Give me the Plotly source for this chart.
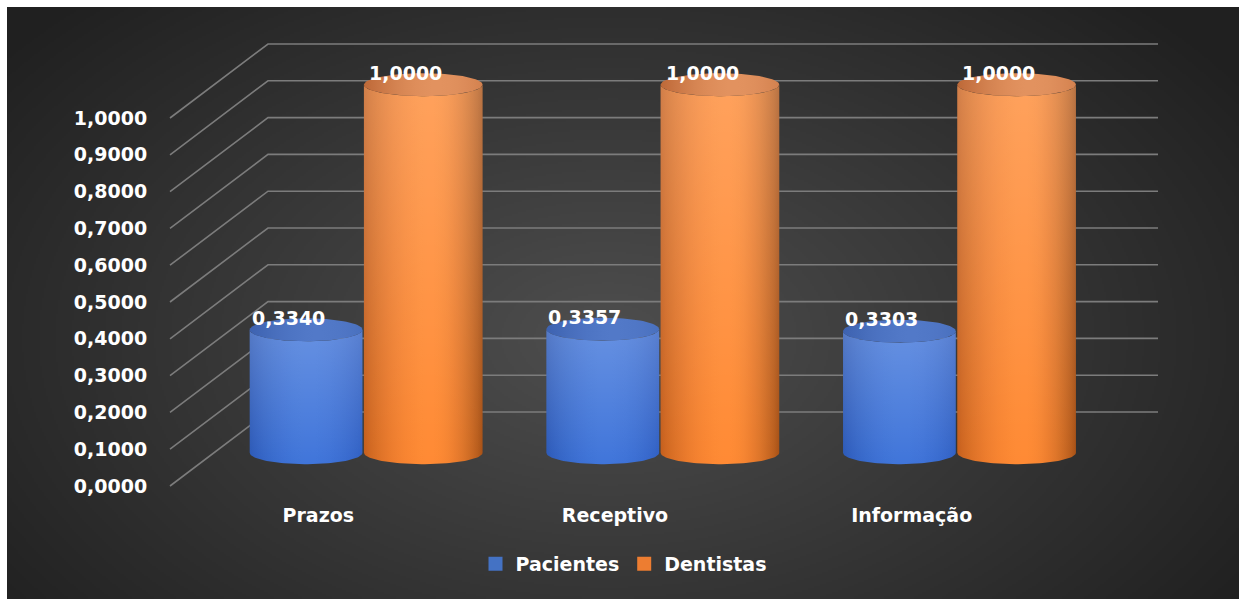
import base64
import math
import struct
import zlib

import numpy as np
import plotly.graph_objects as go

# ---------------------------------------------------------------- data
categories = ["Prazos", "Receptivo", "Informação"]
series_names = ["Pacientes", "Dentistas"]
pacientes = [0.3340, 0.3357, 0.3303]
dentistas = [1.0000, 1.0000, 1.0000]
y_ticks = [round(0.1 * i, 1) for i in range(11)]
y_tick_labels = [f"{v:.4f}".replace(".", ",") for v in y_ticks]


def fmt(v):
    return f"{v:.4f}".replace(".", ",")


# ---------------------------------------------------------------- geometry of the pseudo-3D scene
FIG_W, FIG_H = 1239, 599
PLOT_L, PLOT_R, PLOT_T, PLOT_B = 165, 1200, 30, 490
X_PX = 296.67          # pixels per category step on the front plane
V_PX = 368.0           # pixels per value unit
X0_PX = 170            # pixel of the front-left wall edge (x = -0.5)
V0_PX = 486            # pixel of value 0 on the front plane

x_range = [-0.5 - (X0_PX - PLOT_L) / X_PX, -0.5 + (PLOT_R - X0_PX) / X_PX]
y_range = [(V0_PX - PLOT_B) / V_PX, (V0_PX - PLOT_T) / V_PX]

DEPTH_DX = 98 / X_PX   # oblique shift from front plane to back wall
DEPTH_DV = 74 / V_PX
BAR_DEPTH = 0.45       # depth at which the cylinders stand
ELLIPSE_RY = 11.5 / V_PX
WALL_RIGHT = 2.5 + DEPTH_DX

FONT = "DejaVu Sans"
GRID_COLOR = "#7c7c7c"

series_style = {
    "Pacientes": dict(
        offset=-0.19, radius=0.19, u0=0.05,
        left="#2a58b6", bright="#4075da", right="#2f5ec2",
        cap=("#3d62b0", "#5279c8"), top_light=0.20, legend="#4472c4",
    ),
    "Dentistas": dict(
        offset=0.205, radius=0.20, u0=0.12,
        left="#c45e1c", bright="#ff8a34", right="#a65015",
        cap=("#bd6938", "#e2925f"), top_light=0.20, legend="#ed7d31",
    ),
}


def hex_rgb(h):
    h = h.lstrip("#")
    return np.array([int(h[i:i + 2], 16) for i in (0, 2, 4)], dtype=float)


def lerp(a, b, t):
    return a + (b - a) * t


def to_css(c):
    c = np.clip(np.round(c), 0, 255).astype(int)
    return f"rgb({c[0]},{c[1]},{c[2]})"


def body_colorscale(style, n=25):
    u0 = style["u0"]
    scale = []
    for k in range(n):
        u = -1 + 2 * k / (n - 1)
        if u < u0:
            d = (u0 - u) / (1 + u0)
            edge = hex_rgb(style["left"])
        else:
            d = (u - u0) / (1 - u0)
            edge = hex_rgb(style["right"])
        w = max(0.0, math.cos(d * math.pi / 2)) ** 0.8
        scale.append([k / (n - 1), to_css(lerp(edge, hex_rgb(style["bright"]), w))])
    return scale


def cap_colorscale(style, n=15):
    scale = []
    for k in range(n):
        u = -1 + 2 * k / (n - 1)
        w = max(0.0, math.cos((u - 0.25) / 1.25 * math.pi / 2))
        scale.append([k / (n - 1), to_css(lerp(hex_rgb(style["cap"][0]), hex_rgb(style["cap"][1]), w))])
    return scale


def body_outline(cx, rx, base, top, ry, n=60):
    th = np.linspace(math.pi, 2 * math.pi, n)
    xs = list(cx + rx * np.cos(th))
    ys = list(base + ry * np.sin(th))
    xs += list(cx + rx * np.cos(th[::-1]))
    ys += list(top + ry * np.sin(th[::-1]))
    return xs + [xs[0]], ys + [ys[0]]


def ellipse_outline(cx, cy, rx, ry, n=90):
    th = np.linspace(0, 2 * math.pi, n)
    return list(cx + rx * np.cos(th)), list(cy + ry * np.sin(th))


# ---------------------------------------------------------------- background gradient (PNG built in memory)
def gradient_png(w, h, box_w, box_h):
    ys, xs = np.mgrid[0:h, 0:w].astype(float)
    px = xs * box_w / w
    py = ys * box_h / h
    cx, cy = 600.0, 330.0
    t = np.sqrt(((px - cx) / 760.0) ** 2 + ((py - cy) / 470.0) ** 2)
    t = np.clip(t, 0, 1)
    inner, outer = 78.0, 32.0
    g = inner + (outer - inner) * t
    img = np.repeat(g[:, :, None], 3, axis=2).round().astype(np.uint8)
    raw = b"".join(b"\x00" + img[r].tobytes() for r in range(h))

    def chunk(tag, data):
        return struct.pack(">I", len(data)) + tag + data + struct.pack(">I", zlib.crc32(tag + data) & 0xFFFFFFFF)

    png = b"\x89PNG\r\n\x1a\n"
    png += chunk(b"IHDR", struct.pack(">IIBBBBB", w, h, 8, 2, 0, 0, 0))
    png += chunk(b"IDAT", zlib.compress(raw, 9))
    png += chunk(b"IEND", b"")
    return "data:image/png;base64," + base64.b64encode(png).decode()


BOX_X, BOX_Y = 7, 7
box_w, box_h = FIG_W - BOX_X, FIG_H - BOX_Y
plot_w, plot_h = PLOT_R - PLOT_L, PLOT_B - PLOT_T
bg_image = dict(
    source=gradient_png(box_w // 2, box_h // 2, box_w, box_h),
    xref="paper", yref="paper",
    x=(BOX_X - PLOT_L) / plot_w, y=(PLOT_B - BOX_Y) / plot_h,
    sizex=box_w / plot_w, sizey=box_h / plot_h,
    xanchor="left", yanchor="top", sizing="stretch", layer="below",
)

# ---------------------------------------------------------------- back wall / side wall grid
shapes = []
for v in y_ticks:
    shapes.append(dict(
        type="path", xref="x", yref="y", layer="below",
        path="M {:.5f},{:.5f} L {:.5f},{:.5f} L {:.5f},{:.5f}".format(
            -0.5, v, -0.5 + DEPTH_DX, v + DEPTH_DV, WALL_RIGHT, v + DEPTH_DV),
        line=dict(color=GRID_COLOR, width=1.6),
    ))

# ---------------------------------------------------------------- cylinders
fig = go.Figure()
annotations = []
label_font = dict(family=FONT, size=19, color="white", weight="bold")
for name, values in zip(series_names, [pacientes, dentistas]):
    style = series_style[name]
    rx = style["radius"]
    for i, val in enumerate(values):
        cx = i + BAR_DEPTH * DEPTH_DX + style["offset"]
        base = BAR_DEPTH * DEPTH_DV
        top = base + val
        bx, by = body_outline(cx, rx, base, top, ELLIPSE_RY)
        # side of the cylinder: horizontal shading
        fig.add_trace(go.Scatter(
            x=bx, y=by, mode="lines", fill="toself", line=dict(width=0),
            fillgradient=dict(type="horizontal", colorscale=body_colorscale(style)),
            hoverinfo="skip", showlegend=False,
        ))
        # lighter towards the top
        fig.add_trace(go.Scatter(
            x=bx, y=by, mode="lines", fill="toself", line=dict(width=0),
            fillgradient=dict(type="vertical", colorscale=[
                [0, "rgba(255,255,255,0)"], [1, f"rgba(255,255,255,{style['top_light']})"]]),
            hoverinfo="skip", showlegend=False,
        ))
        # top cap
        ex, ey = ellipse_outline(cx, top, rx, ELLIPSE_RY)
        fig.add_trace(go.Scatter(
            x=ex, y=ey, mode="lines", fill="toself", line=dict(width=0),
            fillgradient=dict(type="horizontal", colorscale=cap_colorscale(style)),
            hoverinfo="skip", showlegend=False,
        ))
        annotations.append(dict(
            x=cx - 0.06, y=top, xref="x", yref="y",
            text=fmt(val), showarrow=False, yshift=12, font=label_font,
        ))

# legend entries
for name in series_names:
    fig.add_trace(go.Scatter(
        x=[None], y=[None], mode="markers", name=name,
        marker=dict(symbol="square", size=14, color=series_style[name]["legend"]),
    ))

fig.update_layout(
    width=FIG_W, height=FIG_H,
    margin=dict(l=PLOT_L, r=FIG_W - PLOT_R, t=PLOT_T, b=FIG_H - PLOT_B, pad=0),
    paper_bgcolor="white",
    plot_bgcolor="rgba(0,0,0,0)",
    images=[bg_image],
    shapes=shapes,
    annotations=annotations,
    showlegend=True,
    legend=dict(
        orientation="h", x=(624 - PLOT_L) / plot_w, y=(PLOT_B - 564) / plot_h,
        xanchor="center", yanchor="middle",
        font=dict(family=FONT, size=19, color="white", weight="bold"),
        bgcolor="rgba(0,0,0,0)", itemclick=False, itemdoubleclick=False,
    ),
    xaxis=dict(
        range=x_range, tickvals=list(range(len(categories))), ticktext=categories,
        showgrid=False, zeroline=False, showline=False,
        ticks="outside", ticklen=8, tickcolor="rgba(0,0,0,0)",
        tickfont=dict(family=FONT, size=19, color="white", weight="bold"),
        fixedrange=True,
    ),
    yaxis=dict(
        range=y_range, tickvals=y_ticks, ticktext=y_tick_labels,
        showgrid=False, zeroline=False, showline=False,
        ticks="outside", ticklen=13, tickcolor="rgba(0,0,0,0)",
        tickfont=dict(family=FONT, size=19, color="white", weight="bold"),
        fixedrange=True,
    ),
)

fig.write_html("out.html")
